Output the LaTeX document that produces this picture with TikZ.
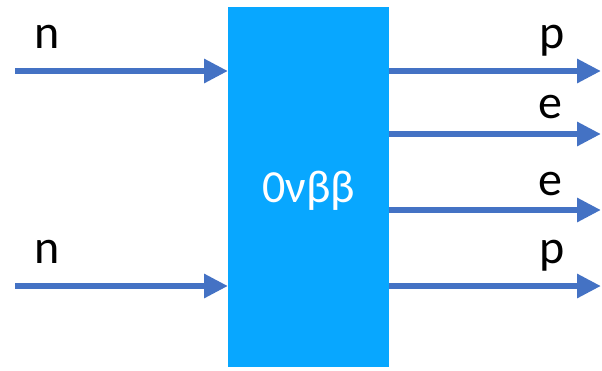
\documentclass[tikz,border=0pt]{standalone}
\usepackage{fontspec}
\setmainfont{Carlito}
\usetikzlibrary{arrows.meta}
\definecolor{boxblue}{HTML}{08A7FF}
\definecolor{arrowblue}{HTML}{4472C4}

\begin{document}
\begin{tikzpicture}[x=1pt,y=-1pt,line width=6.5pt,>={Triangle[length=24pt,width=23pt]},
  flecha/.style={->,draw=arrowblue},
  etiq/.style={anchor=base,inner sep=0pt,font=\fontsize{48}{52}\selectfont}]
  \useasboundingbox (0,0) rectangle (602,370);
  % ===================== caja central =====================
  \node[fill=boxblue,minimum width=161pt,minimum height=360pt,inner sep=0pt,outer sep=0pt,
        text depth=0pt,text=white,font=\fontsize{46}{50}\selectfont] (box) at (308.5,187) {0νββ};
  % ---------- entradas (neutrones) ----------
  \coordinate (n1) at (15,71);
  \coordinate (n2) at (15,286);
  \draw[flecha] (n1) -- (n1 -| box.west);
  \draw[flecha] (n2) -- (n2 -| box.west);
  \node[etiq] (ln1) at (47,48) {n};
  \node[etiq] (ln2) at (47,263) {n};
  % ---------- salidas (protones y electrones) ----------
  \coordinate (p1) at (601,71);
  \coordinate (e1) at (601,134);
  \coordinate (e2) at (601,210);
  \coordinate (p2) at (601,286);
  \draw[flecha] (box.east |- p1) -- (p1);
  \draw[flecha] (box.east |- e1) -- (e1);
  \draw[flecha] (box.east |- e2) -- (e2);
  \draw[flecha] (box.east |- p2) -- (p2);
  \node[etiq] (lp1) at (552,48) {p};
  \node[etiq] (le1) at (550,118) {e};
  \node[etiq] (le2) at (550,195) {e};
  \node[etiq] (lp2) at (552,263) {p};
\end{tikzpicture}
\end{document}
